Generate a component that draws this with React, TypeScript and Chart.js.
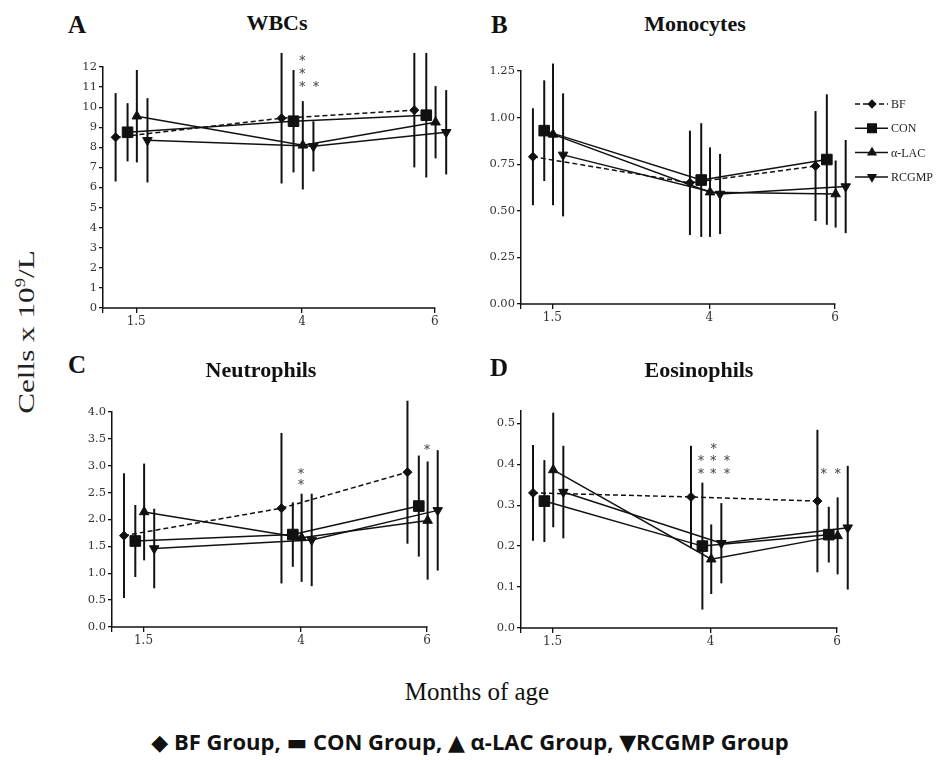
import React, { useEffect, useRef } from "react";
import { Chart, registerables } from "chart.js";
import { drawPoint } from "chart.js/helpers";

Chart.register(...registerables);

// ---------------- DATA ----------------
const months = [1.5, 4, 6];
const xTicks = [1, 1.5, 4, 6];
const xTickLabels = ["", "1.5", "4", "6"];
const seriesNames = ["BF", "CON", "α-LAC", "RCGMP"];

// A: WBCs (mean, SD)
const wbcBF = [8.5, 9.45, 9.85];
const wbcCON = [8.75, 9.3, 9.6];
const wbcLAC = [9.55, 8.1, 9.25];
const wbcRCGMP = [8.35, 8.05, 8.75];
const wbcBFsd = [2.2, 3.25, 2.85];
const wbcCONsd = [1.45, 2.55, 3.1];
const wbcLACsd = [2.3, 2.2, 1.8];
const wbcRCGMPsd = [2.1, 1.25, 2.1];
const wbcTicks = [0, 1, 2, 3, 4, 5, 6, 7, 8, 9, 10, 11, 12];
const wbcStars = [
  { x: 4, y: 12.35 },
  { x: 4, y: 11.7 },
  { x: 4, y: 11.05 },
  { x: 4.21, y: 11.05 },
];

// B: Monocytes
const monoBF = [0.79, 0.65, 0.74];
const monoCON = [0.93, 0.665, 0.775];
const monoLAC = [0.91, 0.6, 0.59];
const monoRCGMP = [0.8, 0.59, 0.63];
const monoBFsd = [0.26, 0.28, 0.295];
const monoCONsd = [0.27, 0.305, 0.35];
const monoLACsd = [0.38, 0.24, 0.18];
const monoRCGMPsd = [0.33, 0.215, 0.25];
const monoTicks = [0, 0.25, 0.5, 0.75, 1.0, 1.25];
const monoStars: { x: number; y: number }[] = [];

// C: Neutrophils
const neuBF = [1.7, 2.21, 2.88];
const neuCON = [1.6, 1.72, 2.25];
const neuLAC = [2.14, 1.66, 1.98];
const neuRCGMP = [1.46, 1.62, 2.17];
const neuBFsd = [1.16, 1.4, 1.33];
const neuCONsd = [0.67, 0.6, 0.94];
const neuLACsd = [0.9, 0.82, 1.1];
const neuRCGMPsd = [0.74, 0.86, 1.12];
const neuTicks = [0, 0.5, 1.0, 1.5, 2.0, 2.5, 3.0, 3.5, 4.0];
const neuStars = [
  { x: 4, y: 2.87 },
  { x: 4, y: 2.66 },
  { x: 6, y: 3.31 },
];

// D: Eosinophils
const eosBF = [0.33, 0.32, 0.31];
const eosCON = [0.31, 0.2, 0.228];
const eosLAC = [0.386, 0.168, 0.225];
const eosRCGMP = [0.332, 0.207, 0.245];
const eosBFsd = [0.117, 0.125, 0.174];
const eosCONsd = [0.1, 0.155, 0.068];
const eosLACsd = [0.14, 0.085, 0.094];
const eosRCGMPsd = [0.113, 0.098, 0.151];
const eosTicks = [0, 0.1, 0.2, 0.3, 0.4, 0.5];
const eosStars = [
  { x: 4.05, y: 0.441 },
  { x: 3.85, y: 0.41 },
  { x: 4.04, y: 0.41 },
  { x: 4.26, y: 0.41 },
  { x: 3.85, y: 0.38 },
  { x: 4.04, y: 0.38 },
  { x: 4.26, y: 0.38 },
  { x: 5.79, y: 0.38 },
  { x: 6.01, y: 0.38 },
];

// ---------------- STYLE ----------------
const INK = "#111";
const X_MIN = 1;
const X_AXIS_END = 6;
const X_MAX = 6.25;
const SERIES_STYLE = [
  { dodge: -0.31, style: "rectRot", rot: 0, r: 4.5, dash: [5, 3] },
  { dodge: -0.13, style: "rect", rot: 0, r: 7.5, dash: [] },
  { dodge: 0.01, style: "triangle", rot: 0, r: 5.5, dash: [] },
  { dodge: 0.17, style: "triangle", rot: 180, r: 5.5, dash: [] },
];

const errorBarPlugin = {
  id: "errorBars",
  beforeDatasetsDraw(chart: any, _a: any, opts: any) {
    const { ctx } = chart;
    const x = chart.scales.x;
    const y = chart.scales.y;
    ctx.save();
    // x axis line (only up to month 6)
    ctx.strokeStyle = INK;
    ctx.lineWidth = 1.5;
    ctx.beginPath();
    ctx.moveTo(x.getPixelForValue(X_MIN) - 1, chart.chartArea.bottom);
    ctx.lineTo(x.getPixelForValue(X_AXIS_END) + 0.5, chart.chartArea.bottom);
    ctx.stroke();
    ctx.lineWidth = 2;
    chart.data.datasets.forEach((ds: any, di: number) => {
      ds.data.forEach((p: any, i: number) => {
        const sd = opts.sd[di][i];
        const px = x.getPixelForValue(p.x);
        ctx.beginPath();
        ctx.moveTo(px, y.getPixelForValue(p.y + sd));
        ctx.lineTo(px, y.getPixelForValue(p.y - sd));
        ctx.stroke();
      });
    });
    ctx.restore();
  },
};

const starPlugin = {
  id: "stars",
  afterDatasetsDraw(chart: any, _a: any, opts: any) {
    const { ctx } = chart;
    const x = chart.scales.x;
    const y = chart.scales.y;
    ctx.save();
    ctx.fillStyle = "#333";
    ctx.font = "12px 'DejaVu Serif'";
    ctx.textAlign = "center";
    ctx.textBaseline = "middle";
    (opts.items || []).forEach((s: any) => {
      ctx.fillText("*", x.getPixelForValue(s.x), y.getPixelForValue(s.y) + 2);
    });
    ctx.restore();
  },
};

const sideLegendPlugin = {
  id: "sideLegend",
  afterDraw(chart: any, _a: any, opts: any) {
    if (!opts.show) return;
    const { ctx, chartArea } = chart;
    const x0 = chart.scales.x.getPixelForValue(X_AXIS_END) + 20;
    ctx.save();
    seriesNames.forEach((name, i) => {
      const st = SERIES_STYLE[i];
      const yy = chartArea.top + 33 + i * 24.3;
      ctx.strokeStyle = INK;
      ctx.fillStyle = INK;
      ctx.lineWidth = 1.5;
      ctx.setLineDash(st.dash);
      ctx.beginPath();
      ctx.moveTo(x0, yy);
      ctx.lineTo(x0 + 33, yy);
      ctx.stroke();
      ctx.setLineDash([]);
      drawPoint(
        ctx,
        { pointStyle: st.style as any, rotation: st.rot, radius: st.r * 0.8, borderWidth: 1 },
        x0 + 17,
        yy
      );
      ctx.fillStyle = "#222";
      ctx.font = "12px 'Liberation Serif'";
      ctx.textAlign = "left";
      ctx.textBaseline = "middle";
      ctx.fillText(name, x0 + 36, yy + 1);
    });
    ctx.restore();
  },
};

type PanelCfg = {
  left: number;
  top: number;
  w: number;
  h: number;
  areaL: number; // chart-area left in canvas px
  area6: number; // pixel of month 6 in canvas px
  xH: number;
  padTop: number;
  yMax: number;
  yTicks: number[];
  dec: number;
  values: number[][];
  sds: number[][];
  stars: { x: number; y: number }[];
  legend: boolean;
};

const panels: PanelCfg[] = [
  {
    left: 40, top: 40, w: 420, h: 300, areaL: 63, area6: 395, xH: 32, padTop: 27,
    yMax: 12, yTicks: wbcTicks, dec: 0,
    values: [wbcBF, wbcCON, wbcLAC, wbcRCGMP],
    sds: [wbcBFsd, wbcCONsd, wbcLACsd, wbcRCGMPsd],
    stars: wbcStars, legend: false,
  },
  {
    left: 460, top: 40, w: 480, h: 300, areaL: 61, area6: 375, xH: 36, padTop: 31,
    yMax: 1.25, yTicks: monoTicks, dec: 2,
    values: [monoBF, monoCON, monoLAC, monoRCGMP],
    sds: [monoBFsd, monoCONsd, monoLACsd, monoRCGMPsd],
    stars: monoStars, legend: true,
  },
  {
    left: 40, top: 380, w: 420, h: 290, areaL: 72, area6: 387, xH: 43, padTop: 32,
    yMax: 4, yTicks: neuTicks, dec: 1,
    values: [neuBF, neuCON, neuLAC, neuRCGMP],
    sds: [neuBFsd, neuCONsd, neuLACsd, neuRCGMPsd],
    stars: neuStars, legend: false,
  },
  {
    left: 460, top: 380, w: 480, h: 290, areaL: 61, area6: 377, xH: 42, padTop: 31,
    yMax: 0.53, yTicks: eosTicks, dec: 1,
    values: [eosBF, eosCON, eosLAC, eosRCGMP],
    sds: [eosBFsd, eosCONsd, eosLACsd, eosRCGMPsd],
    stars: eosStars, legend: false,
  },
];

function PanelChart({ cfg }: { cfg: PanelCfg }) {
  const ref = useRef<HTMLCanvasElement>(null);
  useEffect(() => {
    const areaR = cfg.areaL + ((cfg.area6 - cfg.areaL) * (X_MAX - X_MIN)) / (X_AXIS_END - X_MIN);
    const padRight = cfg.w - areaR;
    const chart = new Chart(ref.current as HTMLCanvasElement, {
      type: "line",
      data: {
        datasets: seriesNames.map((name, si) => {
          const st = SERIES_STYLE[si];
          return {
            label: name,
            data: months.map((m, i) => ({ x: m + st.dodge, y: cfg.values[si][i] })),
            borderColor: INK,
            backgroundColor: INK,
            borderWidth: 1.5,
            borderDash: st.dash,
            pointStyle: st.style as any,
            pointRotation: st.rot,
            pointRadius: st.r,
            pointHoverRadius: st.r,
            pointBorderWidth: 1,
            pointBorderColor: INK,
            pointBackgroundColor: INK,
            clip: false as any,
            tension: 0,
          };
        }),
      },
      options: {
        responsive: false,
        animation: false,
        events: [],
        devicePixelRatio: 1,
        layout: { padding: { left: 0, top: cfg.padTop, right: padRight, bottom: 0 } },
        plugins: {
          legend: { display: false },
          tooltip: { enabled: false },
          errorBars: { sd: cfg.sds },
          stars: { items: cfg.stars },
          sideLegend: { show: cfg.legend },
        } as any,
        scales: {
          x: {
            type: "linear",
            min: X_MIN,
            max: X_MAX,
            afterBuildTicks: (s: any) => {
              s.ticks = xTicks.map((v) => ({ value: v }));
            },
            afterFit: (s: any) => {
              s.height = cfg.xH;
            },
            ticks: {
              callback: (_v: any, i: number) => xTickLabels[i],
              font: { family: "'DejaVu Serif'", size: 12 },
              color: "#333",
              padding: 2,
              maxRotation: 0,
              autoSkip: false,
            },
            grid: { display: true, drawOnChartArea: false, drawTicks: true, tickLength: 5, color: INK, lineWidth: 1.3 },
            border: { display: false },
          },
          y: {
            type: "linear",
            min: 0,
            max: cfg.yMax,
            afterBuildTicks: (s: any) => {
              s.ticks = cfg.yTicks.map((v) => ({ value: v }));
            },
            afterFit: (s: any) => {
              s.width = cfg.areaL;
            },
            ticks: {
              callback: (_v: any, i: number) => cfg.yTicks[i].toFixed(cfg.dec),
              font: { family: "'DejaVu Serif'", size: 11.5 },
              color: "#333",
              padding: 2,
              autoSkip: false,
            },
            grid: { display: true, drawOnChartArea: false, drawTicks: true, tickLength: 4, color: INK, lineWidth: 1.3 },
            border: { display: true, color: INK, width: 1.5 },
          },
        },
      },
      plugins: [errorBarPlugin, starPlugin, sideLegendPlugin],
    });
    return () => chart.destroy();
  }, [cfg]);
  return (
    <canvas
      ref={ref}
      width={cfg.w}
      height={cfg.h}
      style={{ position: "absolute", left: cfg.left, top: cfg.top, width: cfg.w, height: cfg.h }}
    />
  );
}

function Txt(props: {
  x: number;
  base: number;
  size: number;
  bold?: boolean;
  center?: boolean;
  family?: string;
  children: React.ReactNode;
}) {
  const { x, base, size, bold, center, family, children } = props;
  return (
    <div
      style={{
        position: "absolute",
        left: x,
        top: base - 0.84 * size,
        fontSize: size,
        lineHeight: 1,
        fontWeight: bold ? 700 : 400,
        fontFamily: family || "'Liberation Serif', serif",
        color: "#111",
        whiteSpace: "nowrap",
        transform: center ? "translateX(-50%)" : undefined,
      }}
    >
      {children}
    </div>
  );
}

export default function App() {
  return (
    <div
      style={{
        position: "absolute",
        left: 0,
        top: 0,
        width: 949,
        height: 760,
        background: "#fff",
        overflow: "hidden",
      }}
    >
      {panels.map((p, i) => (
        <PanelChart key={i} cfg={p} />
      ))}
      <Txt x={68} base={33} size={25} bold>A</Txt>
      <Txt x={277} base={30} size={22} bold center>WBCs</Txt>
      <Txt x={491} base={33} size={25} bold>B</Txt>
      <Txt x={695} base={31} size={22} bold center>Monocytes</Txt>
      <Txt x={68} base={373} size={25} bold>C</Txt>
      <Txt x={261} base={377} size={22} bold center>Neutrophils</Txt>
      <Txt x={490} base={376} size={25} bold>D</Txt>
      <Txt x={699} base={377} size={22} bold center>Eosinophils</Txt>
      <div
        style={{
          position: "absolute",
          left: 26,
          top: 332,
          transform: "translate(-50%, -50%) rotate(-90deg) scaleX(1.3)",
          fontFamily: "'Liberation Serif', serif",
          fontSize: 24,
          lineHeight: 1,
          whiteSpace: "nowrap",
          color: "#222",
        }}
      >
        Cells x 10<sup style={{ fontSize: "0.6em", verticalAlign: "0.6em", lineHeight: 0 }}>9</sup>/L
      </div>
      <Txt x={477} base={700} size={25} center>Months of age</Txt>
      <Txt x={470} base={748} size={22} bold center family="'Open Sans', 'DejaVu Sans', sans-serif">
        ◆ BF Group, ▬ CON Group, ▲ α-LAC Group, ▼RCGMP Group
      </Txt>
    </div>
  );
}
